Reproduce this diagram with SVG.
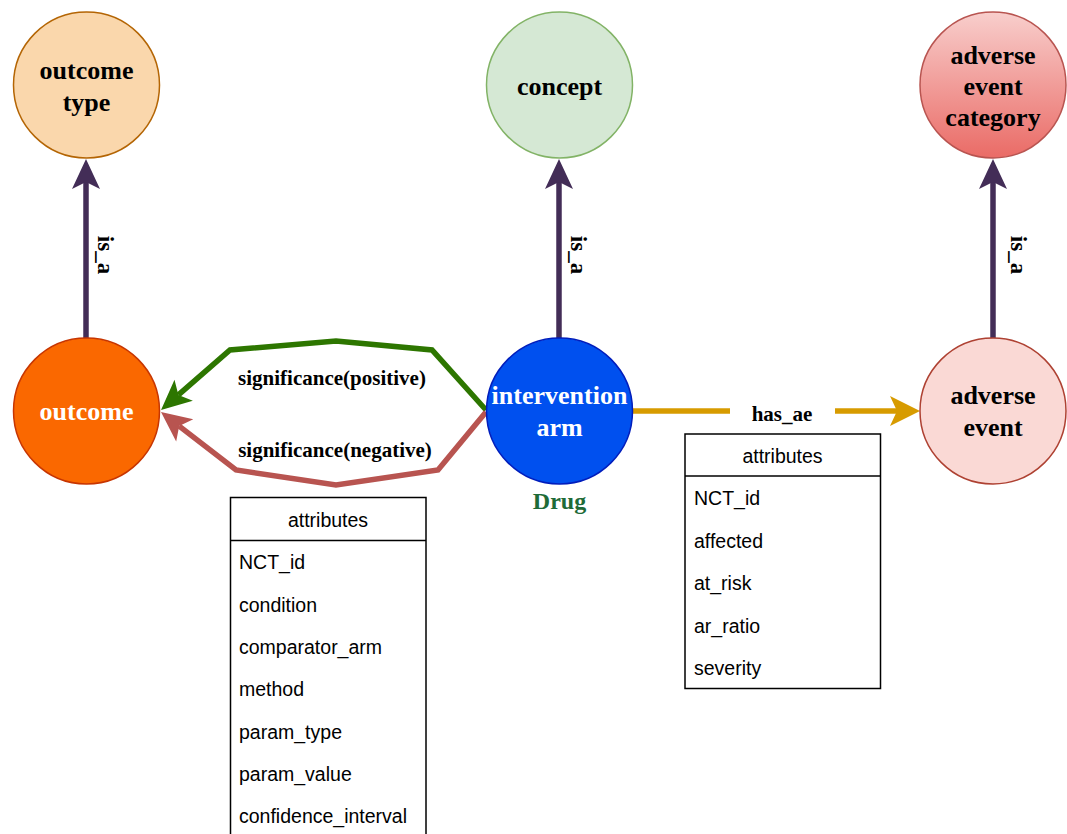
<svg xmlns="http://www.w3.org/2000/svg" width="1067" height="834" viewBox="0 0 1067 834">
<style>
.lbl{font-family:"Liberation Serif","Times New Roman",serif;font-weight:bold;font-size:26px;text-anchor:middle;dominant-baseline:central;fill:#000}
.elbl{font-family:"Liberation Serif","Times New Roman",serif;font-weight:bold;font-size:21px;text-anchor:middle;dominant-baseline:central;fill:#000}
.isa{font-family:"Liberation Serif","Times New Roman",serif;font-weight:bold;font-size:23px;text-anchor:middle;dominant-baseline:central;fill:#000}
.attr{font-family:"Liberation Sans",Arial,sans-serif;font-size:19.5px;dominant-baseline:central;fill:#000}
.box{fill:#fff;stroke:#000;stroke-width:1.5}
.edge{fill:none;stroke-width:5.5;stroke-linejoin:miter}
</style>
<defs>
<linearGradient id="gAec" x1="0" y1="0" x2="0" y2="1">
<stop offset="0" stop-color="#F8CECC"/>
<stop offset="1" stop-color="#EA6B66"/>
</linearGradient>
<marker id="aP" markerUnits="userSpaceOnUse" markerWidth="40" markerHeight="40" viewBox="-10 -20 40 40" refX="0" refY="0" orient="auto">
<path d="M23,0 L-7,-14 L0,0 L-7,14 Z" fill="#432D57"/>
</marker>
<marker id="aG" markerUnits="userSpaceOnUse" markerWidth="40" markerHeight="40" viewBox="-10 -20 40 40" refX="0" refY="0" orient="auto">
<path d="M23,0 L-7,-14 L0,0 L-7,14 Z" fill="#2D7600"/>
</marker>
<marker id="aR" markerUnits="userSpaceOnUse" markerWidth="40" markerHeight="40" viewBox="-10 -20 40 40" refX="0" refY="0" orient="auto">
<path d="M23,0 L-7,-14 L0,0 L-7,14 Z" fill="#B85450"/>
</marker>
<marker id="aY" markerUnits="userSpaceOnUse" markerWidth="40" markerHeight="40" viewBox="-10 -20 40 40" refX="0" refY="0" orient="auto">
<path d="M23,0 L-7,-15 L0,0 L-7,15 Z" fill="#D79B00"/>
</marker>
</defs>

<g id="connectors">
<line class="edge" x1="86" y1="338" x2="86" y2="182" stroke="#432D57" marker-end="url(#aP)"/>
<line class="edge" x1="559" y1="338" x2="559" y2="182" stroke="#432D57" marker-end="url(#aP)"/>
<line class="edge" x1="993" y1="338" x2="993" y2="182" stroke="#432D57" marker-end="url(#aP)"/>
<text class="isa" transform="translate(105,255) rotate(90)">is_a</text>
<text class="isa" transform="translate(578,255) rotate(90)">is_a</text>
<text class="isa" transform="translate(1018,255) rotate(90)">is_a</text>
<polyline class="edge" points="486,410 432,350 336,341 230,350 178.4,394.9" stroke="#2D7600" marker-end="url(#aG)"/>
<polyline class="edge" points="486,412 438,470 336,485 236,470 179.2,426.1" stroke="#B85450" marker-end="url(#aR)"/>
<text class="elbl" x="332" y="378">significance(positive)</text>
<text class="elbl" x="335" y="450">significance(negative)</text>
<line class="edge" x1="633" y1="411" x2="730" y2="411" stroke="#D79B00"/>
<line class="edge" x1="835" y1="411" x2="897" y2="411" stroke="#D79B00" marker-end="url(#aY)"/>
<text class="elbl" x="782" y="414">has_ae</text>
</g>

<g id="outcome-type">
<circle cx="86.5" cy="85" r="73" fill="#FAD7AC" stroke="#B46504" stroke-width="1.5"/>
<text class="lbl" x="86.5" y="70">outcome</text>
<text class="lbl" x="86.5" y="102">type</text>
</g>
<g id="concept">
<circle cx="559.5" cy="85" r="73" fill="#D5E8D4" stroke="#82B366" stroke-width="1.5"/>
<text class="lbl" x="559.5" y="86">concept</text>
</g>
<g id="adverse-event-category">
<circle cx="993" cy="85" r="73" fill="url(#gAec)" stroke="#B85450" stroke-width="1.5"/>
<text class="lbl" x="993" y="55">adverse</text>
<text class="lbl" x="993" y="86">event</text>
<text class="lbl" x="993" y="117">category</text>
</g>
<g id="outcome">
<circle cx="86.5" cy="411" r="73" fill="#FA6800" stroke="#C73500" stroke-width="1.5"/>
<text class="lbl" x="86.5" y="411" fill="#fff" style="fill:#fff">outcome</text>
</g>
<g id="intervention-arm">
<circle cx="559.5" cy="411" r="73" fill="#0050EF" stroke="#001DBC" stroke-width="1.5"/>
<text class="lbl" x="559.5" y="395" style="fill:#fff">intervention</text>
<text class="lbl" x="559.5" y="427" style="fill:#fff">arm</text>
<text class="lbl" x="559.5" y="501" style="fill:#1E6B38;font-size:24px">Drug</text>
</g>
<g id="adverse-event">
<circle cx="993" cy="411" r="73" fill="#FAD9D5" stroke="#AE4132" stroke-width="1.5"/>
<text class="lbl" x="993" y="395">adverse</text>
<text class="lbl" x="993" y="427">event</text>
</g>

<g id="outcome-attributes">
<rect class="box" x="230.5" y="497.5" width="195.5" height="345"/>
<line x1="230.5" y1="540.5" x2="426" y2="540.5" stroke="#000" stroke-width="1.5"/>
<text class="attr" x="328" y="520" text-anchor="middle">attributes</text>
<text class="attr" x="239" y="562">NCT_id</text>
<text class="attr" x="239" y="605">condition</text>
<text class="attr" x="239" y="647">comparator_arm</text>
<text class="attr" x="239" y="689">method</text>
<text class="attr" x="239" y="732">param_type</text>
<text class="attr" x="239" y="774">param_value</text>
<text class="attr" x="239" y="816">confidence_interval</text>
</g>

<g id="ae-attributes">
<rect class="box" x="685" y="434" width="195.5" height="254.5"/>
<line x1="685" y1="476" x2="880.5" y2="476" stroke="#000" stroke-width="1.5"/>
<text class="attr" x="782.5" y="456" text-anchor="middle">attributes</text>
<text class="attr" x="694" y="498">NCT_id</text>
<text class="attr" x="694" y="541">affected</text>
<text class="attr" x="694" y="583">at_risk</text>
<text class="attr" x="694" y="626">ar_ratio</text>
<text class="attr" x="694" y="668">severity</text>
</g>
</svg>
